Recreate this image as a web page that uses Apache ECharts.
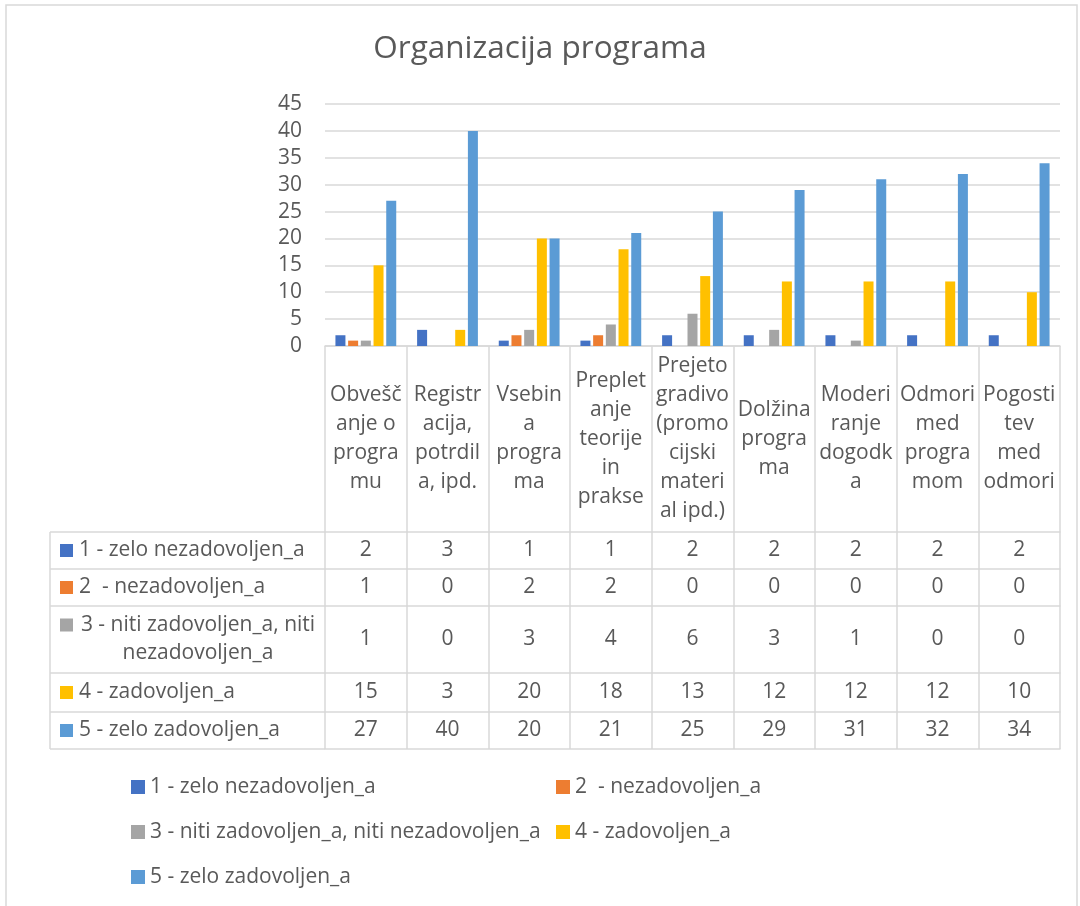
<!DOCTYPE html>
<html>
<head>
<meta charset="utf-8">
<title>Organizacija programa</title>
<script src="https://cdn.jsdelivr.net/npm/echarts@6/dist/echarts.min.js"></script>
<style>
  html, body { margin: 0; padding: 0; background: #fff; }
  #chart { width: 1080px; height: 906px; }
</style>
</head>
<body>
<div id="chart"></div>
<script>
// kategorije (prelomljene tako kot v tabeli pod grafom)
const categories = [
  'Obvešč\nanje o\nprogra\nmu',
  'Registr\nacija,\npotrdil\na, ipd.',
  'Vsebin\na\nprogra\nma',
  'Preplet\nanje\nteorije\nin\nprakse',
  'Prejeto\ngradivo\n(promo\ncijski\nmateri\nal ipd.)',
  'Dolžina\nprogra\nma',
  'Moderi\nranje\ndogodk\na',
  'Odmori\nmed\nprogra\nmom',
  'Pogosti\ntev\nmed\nodmori'
]
const seriesNames = [
  '1 - zelo nezadovoljen_a',
  '2  - nezadovoljen_a',
  '3 - niti zadovoljen_a, niti nezadovoljen_a',
  '4 - zadovoljen_a',
  '5 - zelo zadovoljen_a'
]
const zeloNezadovoljen = [2, 3, 1, 1, 2, 2, 2, 2, 2]
const nezadovoljen = [1, 0, 2, 2, 0, 0, 0, 0, 0]
const nitiNiti = [1, 0, 3, 4, 6, 3, 1, 0, 0]
const zadovoljen = [15, 3, 20, 18, 13, 12, 12, 12, 10]
const zeloZadovoljen = [27, 40, 20, 21, 25, 29, 31, 32, 34]
const yTicks = [0, 5, 10, 15, 20, 25, 30, 35, 40, 45]

const values = [zeloNezadovoljen, nezadovoljen, nitiNiti, zadovoljen, zeloZadovoljen]
const colors = ['#4472C4', '#ED7D31', '#A5A5A5', '#FFC000', '#5B9BD5']

// postavitev tabele
const FONT = 'Open Sans'
const textColor = '#595959'
const lineColor = '#d9d9d9'
const gridLeft = 325
const gridRight = 1060
const gridTop = 104
const gridBottom = 346
const rowTops = [532, 569, 606, 673, 712]
const tableBottom = 749
const tableLeft = 50

const chart = echarts.init(document.getElementById('chart'))

// osnovna x os = glava tabele z imeni kategorij
const xAxes = [{
  type: 'category',
  data: categories,
  position: 'bottom',
  axisLine: { show: true, lineStyle: { color: lineColor, width: 1.5 } },
  axisTick: { show: true, interval: 0, length: rowTops[0] - gridBottom, lineStyle: { color: lineColor, width: 1.5 } },
  axisLabel: {
    interval: 0,
    margin: (rowTops[0] - gridBottom) / 2,
    verticalAlign: 'middle',
    color: textColor,
    fontFamily: FONT,
    fontSize: 21,
    lineHeight: 29
  }
}]
// vrstice tabele z vrednostmi
values.forEach((row, r) => {
  const top = rowTops[r]
  const bottom = r < rowTops.length - 1 ? rowTops[r + 1] : tableBottom
  xAxes.push({
    type: 'category',
    data: categories,
    position: 'bottom',
    offset: top - gridBottom,
    axisLine: { show: true, lineStyle: { color: lineColor, width: 1.5 } },
    axisTick: { show: true, interval: 0, length: bottom - top, lineStyle: { color: lineColor, width: 1.5 } },
    axisLabel: {
      interval: 0,
      margin: (bottom - top) / 2,
      verticalAlign: 'middle',
      color: textColor,
      fontFamily: FONT,
      fontSize: 21,
      formatter: (v, i) => String(row[i])
    }
  })
})
// spodnja črta tabele
xAxes.push({
  type: 'category',
  data: categories,
  position: 'bottom',
  offset: tableBottom - gridBottom,
  axisLine: { show: true, lineStyle: { color: lineColor, width: 1.5 } },
  axisTick: { show: false },
  axisLabel: { show: false }
})

// levi stolpec tabele (legenda v tabeli)
const graphics = [{
  type: 'rect',
  shape: { x: 6, y: 5, width: 1071, height: 920 },
  style: { fill: 'none', stroke: lineColor, lineWidth: 1.5 },
  silent: true
}]
rowTops.concat([tableBottom]).forEach(y => {
  graphics.push({
    type: 'line',
    shape: { x1: tableLeft, y1: y, x2: gridLeft, y2: y },
    style: { stroke: lineColor, lineWidth: 1.5 }
  })
})
graphics.push({
  type: 'line',
  shape: { x1: tableLeft, y1: rowTops[0], x2: tableLeft, y2: tableBottom },
  style: { stroke: lineColor, lineWidth: 1.5 }
})
seriesNames.forEach((name, r) => {
  const top = rowTops[r]
  const bottom = r < rowTops.length - 1 ? rowTops[r + 1] : tableBottom
  const mid = (top + bottom) / 2
  if (r === 2) {
    // dolgo ime gre v dve vrstici, sredinsko poravnano
    graphics.push({
      type: 'rect',
      shape: { x: 60, y: mid - 21, width: 13, height: 13 },
      style: { fill: colors[r] }
    })
    graphics.push({
      type: 'text',
      x: 198, y: mid,
      style: {
        text: '3 - niti zadovoljen_a, niti\nnezadovoljen_a',
        fill: textColor, font: '21px "' + FONT + '"',
        align: 'center', verticalAlign: 'middle', lineHeight: 28
      }
    })
  } else {
    graphics.push({
      type: 'rect',
      shape: { x: 60, y: mid - 6.5, width: 13, height: 13 },
      style: { fill: colors[r] }
    })
    graphics.push({
      type: 'text',
      x: 79, y: mid,
      style: {
        text: name, fill: textColor, font: '21px "' + FONT + '"',
        align: 'left', verticalAlign: 'middle'
      }
    })
  }
})

const legendBase = {
  orient: 'vertical',
  icon: 'rect',
  padding: 0,
  itemWidth: 14,
  itemHeight: 14,
  itemGap: 23,
  textStyle: { color: textColor, fontFamily: FONT, fontSize: 21, lineHeight: 22 }
}

const option = {
  animation: false,
  color: colors,
  title: {
    text: 'Organizacija programa',
    left: 'center',
    top: 28,
    textStyle: { color: textColor, fontFamily: FONT, fontSize: 31.5, fontWeight: 'normal' }
  },
  legend: [
    Object.assign({}, legendBase, { left: 131, top: 776, data: [seriesNames[0], seriesNames[2], seriesNames[4]] }),
    Object.assign({}, legendBase, { left: 556, top: 776, data: [seriesNames[1], seriesNames[3]] })
  ],
  grid: {
    left: gridLeft,
    right: 1080 - gridRight,
    top: gridTop,
    bottom: 906 - gridBottom,
    outerBoundsMode: 'none'
  },
  xAxis: xAxes,
  yAxis: {
    type: 'value',
    min: yTicks[0],
    max: yTicks[yTicks.length - 1],
    interval: yTicks[1] - yTicks[0],
    axisLine: { show: false },
    axisTick: { show: false },
    axisLabel: { color: textColor, fontFamily: FONT, fontSize: 21, margin: 23 },
    splitLine: { lineStyle: { color: lineColor, width: 1.5 } }
  },
  graphic: graphics,
  series: seriesNames.map((name, i) => ({
    name: name,
    type: 'bar',
    xAxisIndex: 0,
    data: values[i],
    barWidth: 10,
    barGap: '27%'
  }))
}
chart.setOption(option)
</script>
</body>
</html>
